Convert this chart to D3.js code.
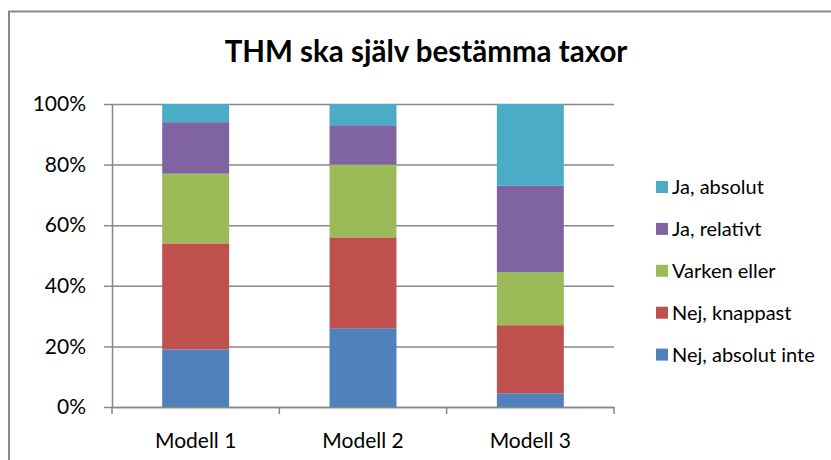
<!DOCTYPE html>
<html>
<head>
<meta charset="utf-8">
<script src="https://cdn.jsdelivr.net/npm/d3@7"></script>
<style>
  body { margin: 0; background: #fff; }
  svg { display: block; font-family: Lato, "Open Sans", sans-serif; }
</style>
</head>
<body>
<svg width="831" height="460"></svg>
<script>
const categories = ['Modell 1', 'Modell 2', 'Modell 3'];
const seriesNames = ['Nej, absolut inte', 'Nej, knappast', 'Varken eller', 'Ja, relativt', 'Ja, absolut'];
const nejAbsolutInte = [19, 26, 4.5];
const nejKnappast = [35, 30, 22.5];
const varkenEller = [23, 24, 17.5];
const jaRelativt = [17, 13, 28.5];
const jaAbsolut = [6, 7, 27];
const yTicks = [0, 20, 40, 60, 80, 100];

const colors = ['#4f81bd', '#c0504d', '#9bbb59', '#8064a2', '#4bacc6'];
const seriesValues = [nejAbsolutInte, nejKnappast, varkenEller, jaRelativt, jaAbsolut];

// rows for d3.stack
const rows = categories.map((c, i) => {
  const r = { cat: c };
  seriesNames.forEach((s, j) => { r[s] = seriesValues[j][i]; });
  return r;
});

const svg = d3.select('svg');
const plot = { left: 112, right: 614, top: 104, bottom: 407 };

// outer chart frame (only top/left edges visible)
svg.append('rect')
  .attr('x', 9).attr('y', 11.5)
  .attr('width', 900).attr('height', 600)
  .attr('fill', 'none')
  .attr('stroke', '#888')
  .attr('stroke-width', 2);

svg.append('text')
  .attr('x', 426).attr('y', 62)
  .attr('text-anchor', 'middle')
  .attr('font-weight', 'bold')
  .attr('font-size', 29.5)
  .text('THM ska själv bestämma taxor');

const x = d3.scaleBand()
  .domain(categories)
  .range([plot.left, plot.right])
  .paddingInner(0.6)
  .paddingOuter(0.3);

const y = d3.scaleLinear()
  .domain([0, 100])
  .range([plot.bottom, plot.top]);

// gridlines
const grid = svg.append('g')
  .attr('transform', `translate(${plot.left},0)`)
  .call(d3.axisLeft(y).tickValues(yTicks).tickSize(-(plot.right - plot.left)).tickFormat(''));
grid.select('.domain').remove();
grid.selectAll('line').attr('stroke', '#888').attr('stroke-width', 1.5);

// bars
const stacked = d3.stack().keys(seriesNames)(rows);
svg.append('g').selectAll('g')
  .data(stacked)
  .join('g')
  .attr('fill', (d, i) => colors[i])
  .selectAll('rect')
  .data(d => d)
  .join('rect')
  .attr('x', d => x(d.data.cat))
  .attr('width', x.bandwidth())
  .attr('y', d => y(d[1]))
  .attr('height', d => y(d[0]) - y(d[1]));

// y axis
const yAxis = svg.append('g')
  .attr('transform', `translate(${plot.left},0)`)
  .call(d3.axisLeft(y).tickValues(yTicks).tickSize(8).tickSizeOuter(0).tickPadding(18)
    .tickFormat(d => d + '%'));
yAxis.select('.domain').attr('stroke', '#888').attr('stroke-width', 1.5);
yAxis.selectAll('line').attr('stroke', '#888').attr('stroke-width', 1.5);
yAxis.selectAll('text').attr('font-size', 21).attr('fill', '#000').attr('font-family', 'Lato, sans-serif');

// x axis with ticks at band edges
const xAxis = svg.append('g')
  .attr('transform', `translate(0,${plot.bottom})`)
  .call(d3.axisBottom(x).tickSize(0).tickPadding(26));
xAxis.select('.domain').attr('stroke', '#888').attr('stroke-width', 1.5);
xAxis.selectAll('text').attr('font-size', 21).attr('fill', '#000').attr('font-family', 'Lato, sans-serif');
const edges = categories.map(c => x(c) - x.step() * x.paddingInner() / 2).concat([plot.right]);
xAxis.selectAll('line.edge')
  .data(edges)
  .join('line')
  .attr('class', 'edge')
  .attr('x1', d => d).attr('x2', d => d)
  .attr('y1', 0).attr('y2', 7)
  .attr('stroke', '#888').attr('stroke-width', 1.5);

// legend (top item = last series)
const legendItems = seriesNames.map((s, i) => ({ name: s, color: colors[i] })).reverse();
const legend = svg.append('g').attr('transform', 'translate(656,0)');
const li = legend.selectAll('g')
  .data(legendItems)
  .join('g')
  .attr('transform', (d, i) => `translate(0,${187 + i * 41.9})`);
li.append('rect')
  .attr('x', 0).attr('y', -6)
  .attr('width', 12).attr('height', 12)
  .attr('fill', d => d.color);
li.append('text')
  .attr('x', 16).attr('y', 7)
  .attr('font-size', 20)
  .text(d => d.name);
</script>
</body>
</html>
